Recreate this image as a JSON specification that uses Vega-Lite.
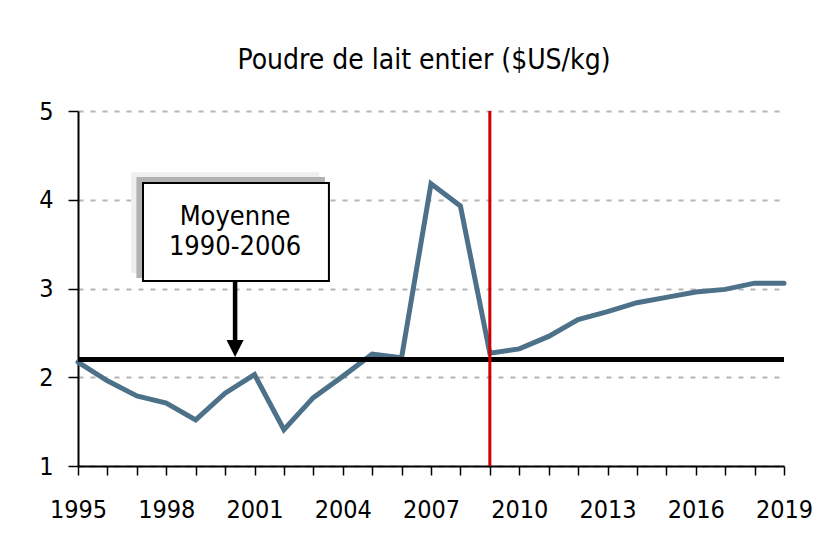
{
  "$schema": "https://vega.github.io/schema/vega-lite/v6.json",
  "width": 706,
  "height": 355,
  "autosize": {"type": "none"},
  "padding": {"left": 78, "top": 111, "right": 36, "bottom": 84},
  "background": "white",
  "config": {
    "view": {"stroke": null},
    "font": "DejaVu Sans Condensed, Liberation Sans, sans-serif",
    "axis": {"labelFont": "DejaVu Sans Condensed, Liberation Sans, sans-serif", "labelColor": "black", "domainColor": "black", "tickColor": "black"},
    "axisX": {"labelOverlap": false, "labelBound": false}
  },
  "title": {
    "text": "Poudre de lait entier ($US/kg)",
    "font": "DejaVu Sans Condensed, Liberation Sans, sans-serif",
    "fontSize": 28,
    "fontWeight": "normal",
    "color": "black",
    "anchor": "middle",
    "offset": 24,
    "dx": -7
  },
  "datasets": {
    "prix": [
      {"annee": 1995, "prix": 2.17},
      {"annee": 1996, "prix": 1.96},
      {"annee": 1997, "prix": 1.79},
      {"annee": 1998, "prix": 1.71},
      {"annee": 1999, "prix": 1.52},
      {"annee": 2000, "prix": 1.82},
      {"annee": 2001, "prix": 2.03},
      {"annee": 2002, "prix": 1.41},
      {"annee": 2003, "prix": 1.77},
      {"annee": 2004, "prix": 2.01},
      {"annee": 2005, "prix": 2.26},
      {"annee": 2006, "prix": 2.22},
      {"annee": 2007, "prix": 4.18},
      {"annee": 2008, "prix": 3.93},
      {"annee": 2009, "prix": 2.27},
      {"annee": 2010, "prix": 2.32},
      {"annee": 2011, "prix": 2.46},
      {"annee": 2012, "prix": 2.65},
      {"annee": 2013, "prix": 2.74},
      {"annee": 2014, "prix": 2.84},
      {"annee": 2015, "prix": 2.90},
      {"annee": 2016, "prix": 2.96},
      {"annee": 2017, "prix": 2.99},
      {"annee": 2018, "prix": 3.06},
      {"annee": 2019, "prix": 3.06}
    ],
    "repere": [
      {"moyenne": 2.2, "annee": 2009}
    ],
    "boite": [
      {"role": "ombre1", "x": 1996.84, "x2": 2003.16, "y": 4.30, "y2": 3.186},
      {"role": "ombre2", "x": 1997.02, "x2": 2003.36, "y": 4.245, "y2": 3.13},
      {"role": "cadre", "x": 1997.21, "x2": 2003.53, "y": 4.189, "y2": 3.085}
    ],
    "texte": [
      {"x": 2000.34, "y": 3.716, "t": "Moyenne"},
      {"x": 2000.34, "y": 3.377, "t": "1990-2006"}
    ],
    "fleche": [
      {"x": 2000.34, "y": 3.085, "y2": 2.30, "pointe": 2.324}
    ]
  },
  "layer": [
    {
      "data": {"name": "prix"},
      "mark": {"type": "line", "color": "#4d7189", "strokeWidth": 5, "strokeCap": "round", "strokeJoin": "miter"},
      "encoding": {
        "x": {
          "field": "annee", "type": "quantitative",
          "scale": {"domain": [1995, 2019], "nice": false, "zero": false},
          "axis": {
            "title": null,
            "values": [1995,1996,1997,1998,1999,2000,2001,2002,2003,2004,2005,2006,2007,2008,2009,2010,2011,2012,2013,2014,2015,2016,2017,2018,2019],
            "tickCount": 30,
            "labelExpr": "datum.value % 3 == 0 ? format(datum.value, 'd') : ''",
            "labelFontSize": 25,
            "labelPadding": 22,
            "labelFlush": false,
            "labelOverlap": false,
            "tickSize": 9,
            "tickWidth": 1.5,
            "domainWidth": 2,
            "grid": false
          }
        },
        "y": {
          "field": "prix", "type": "quantitative",
          "scale": {"domain": [1, 5], "nice": false, "zero": false},
          "axis": {
            "title": null,
            "values": [1, 2, 3, 4, 5],
            "format": "d",
            "labelFontSize": 25,
            "labelPadding": 15,
            "tickSize": 10,
            "tickWidth": 1.5,
            "domainWidth": 2,
            "grid": true,
            "gridColor": "#b4b4b4",
            "gridDash": [5, 7],
            "gridWidth": 2
          }
        }
      }
    },
    {
      "data": {"name": "repere"},
      "mark": {"type": "rule", "color": "black", "strokeWidth": 5},
      "encoding": {"y": {"field": "moyenne", "type": "quantitative"}}
    },
    {
      "data": {"name": "repere"},
      "mark": {"type": "rule", "color": "#cc0000", "strokeWidth": 3},
      "encoding": {"x": {"field": "annee", "type": "quantitative"}}
    },
    {
      "data": {"name": "boite"},
      "mark": {"type": "rect"},
      "encoding": {
        "x": {"field": "x", "type": "quantitative"},
        "x2": {"field": "x2"},
        "y": {"field": "y", "type": "quantitative"},
        "y2": {"field": "y2"},
        "fill": {"field": "role", "type": "nominal", "scale": {"domain": ["ombre1", "ombre2", "cadre"], "range": ["#efefef", "#b2b2b2", "white"]}, "legend": null},
        "stroke": {"field": "role", "type": "nominal", "scale": {"domain": ["ombre1", "ombre2", "cadre"], "range": ["#efefef", "#b2b2b2", "black"]}, "legend": null},
        "strokeWidth": {"value": 2}
      }
    },
    {
      "data": {"name": "texte"},
      "mark": {"type": "text", "font": "DejaVu Sans Condensed, Liberation Sans, sans-serif", "fontSize": 27, "color": "black", "align": "center", "baseline": "alphabetic"},
      "encoding": {
        "x": {"field": "x", "type": "quantitative"},
        "y": {"field": "y", "type": "quantitative"},
        "text": {"field": "t"}
      }
    },
    {
      "data": {"name": "fleche"},
      "mark": {"type": "rule", "color": "black", "strokeWidth": 4.5},
      "encoding": {
        "x": {"field": "x", "type": "quantitative"},
        "y": {"field": "y", "type": "quantitative"},
        "y2": {"field": "y2"}
      }
    },
    {
      "data": {"name": "fleche"},
      "mark": {"type": "point", "shape": "M-1,-1L1,-1L0,1Z", "filled": true, "color": "black", "size": 290, "opacity": 1},
      "encoding": {
        "x": {"field": "x", "type": "quantitative"},
        "y": {"field": "pointe", "type": "quantitative"}
      }
    }
  ]
}
